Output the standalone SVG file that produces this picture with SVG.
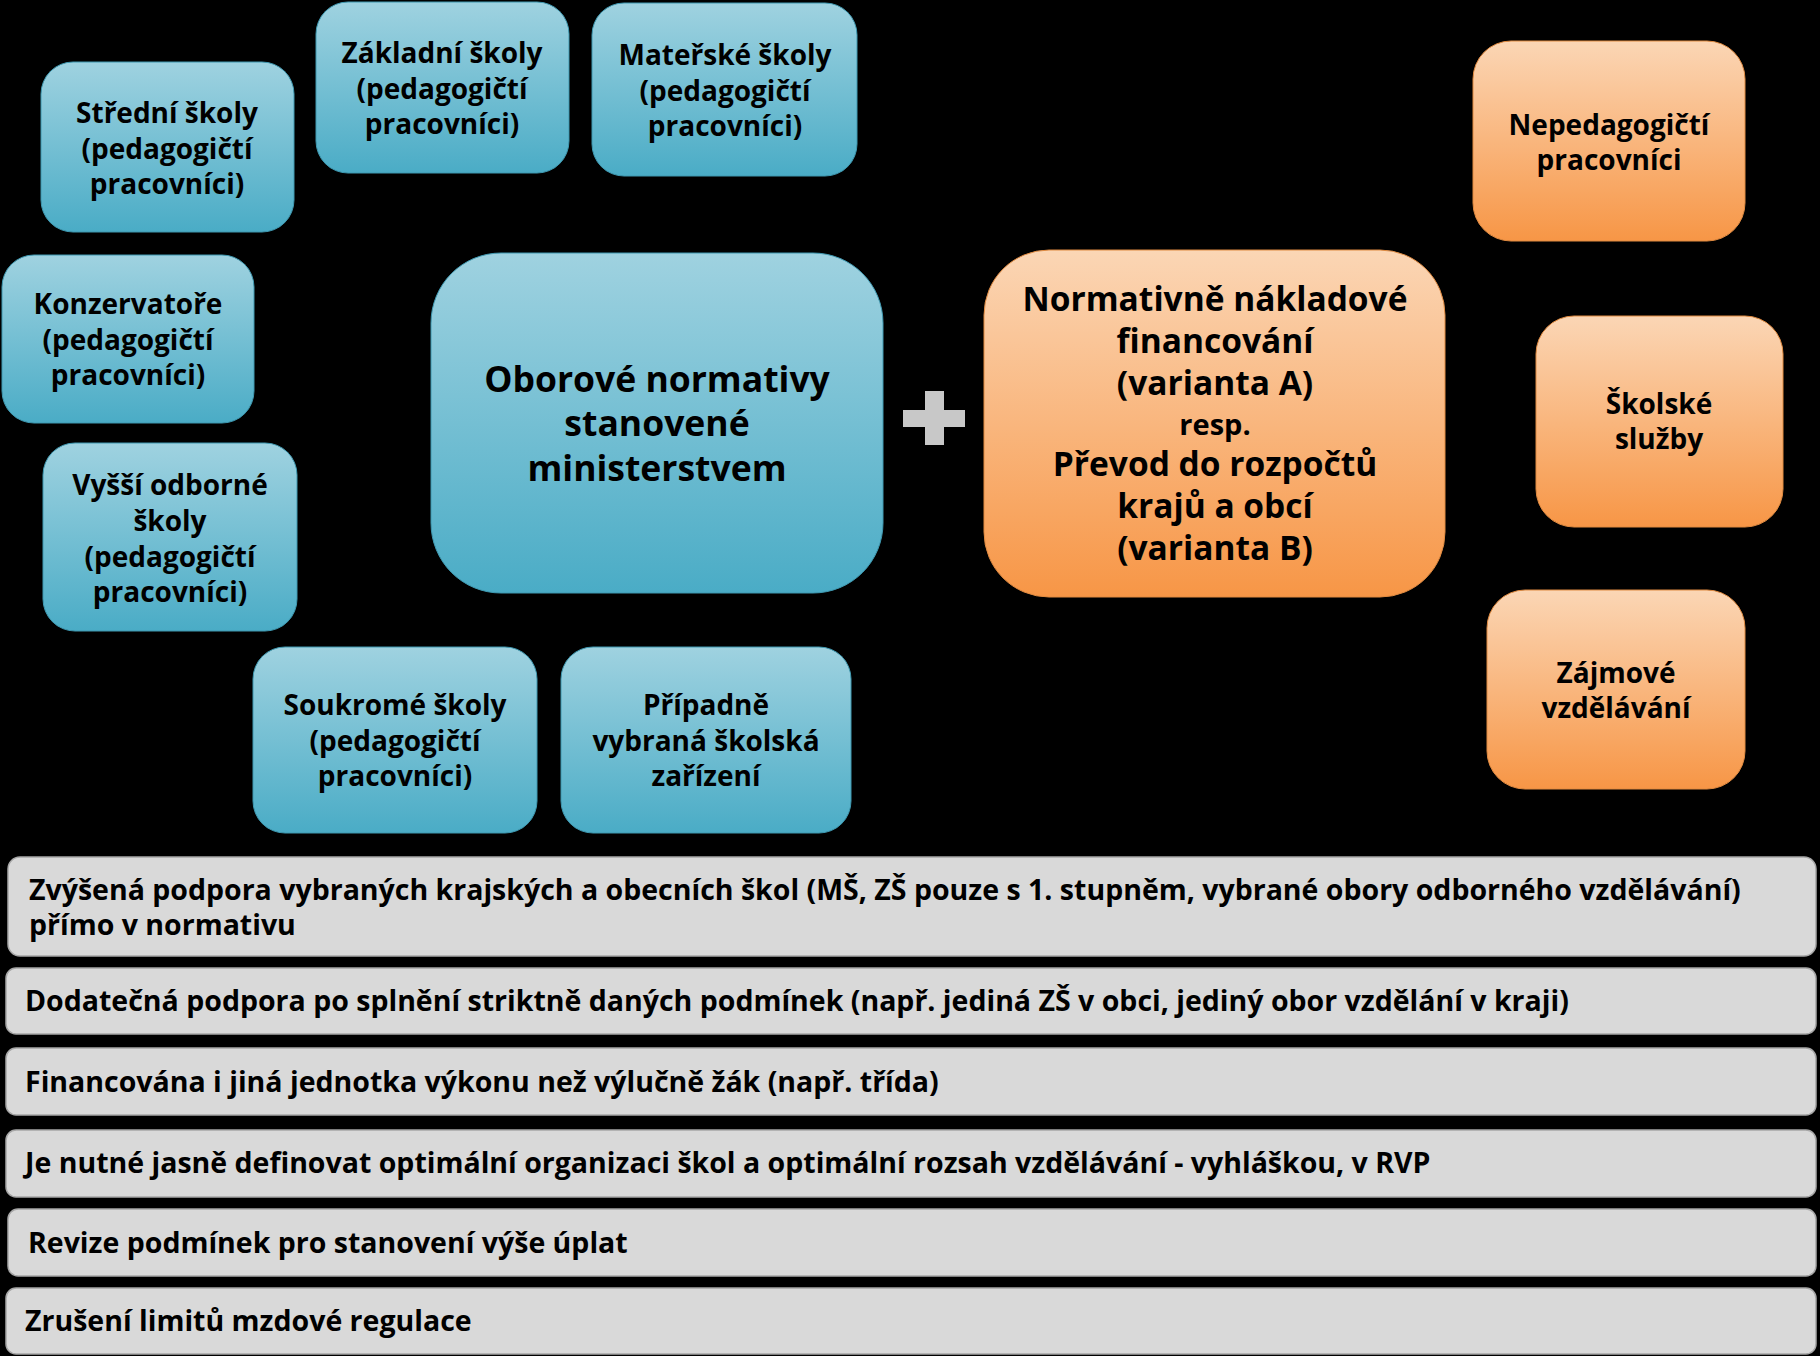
<svg xmlns="http://www.w3.org/2000/svg" width="1820" height="1356" viewBox="0 0 1820 1356">
<defs>
<linearGradient id="gBlue" x1="0" y1="0" x2="0" y2="1">
<stop offset="0" stop-color="#9fd2e0"/>
<stop offset="1" stop-color="#4aacc6"/>
</linearGradient>
<linearGradient id="gOrange" x1="0" y1="0" x2="0" y2="1">
<stop offset="0" stop-color="#fbd6b5"/>
<stop offset="1" stop-color="#f79646"/>
</linearGradient>
<style>
text{font-family:"Open Sans","Liberation Sans",sans-serif;font-weight:bold;fill:#000}
.blue{fill:url(#gBlue);stroke:#3e98b0;stroke-width:1}
.orange{fill:url(#gOrange);stroke:#e08a40;stroke-width:1}
.bar{fill:#d9d9d9;stroke:#a6a6a6;stroke-width:1.5}
.n{font-size:28px;text-anchor:middle}
.bigb{font-size:35.5px;text-anchor:middle}
.bigo{font-size:33.5px;text-anchor:middle}
.resp{font-size:29px;text-anchor:middle}
.b{font-size:28.5px}
</style>
</defs>
<rect width="1820" height="1356" fill="#000"/>

<g id="stredni">
<rect class="blue" x="41" y="62" width="253" height="170" rx="32"/>
<text class="n" x="167" y="123">Střední školy</text>
<text class="n" x="167" y="159">(pedagogičtí</text>
<text class="n" x="167" y="194">pracovníci)</text>
</g>
<g id="zakladni">
<rect class="blue" x="316" y="2" width="253" height="171" rx="32"/>
<text class="n" x="442" y="63">Základní školy</text>
<text class="n" x="442" y="99">(pedagogičtí</text>
<text class="n" x="442" y="134">pracovníci)</text>
</g>
<g id="materske">
<rect class="blue" x="592" y="3" width="265" height="173" rx="32"/>
<text class="n" x="725" y="65">Mateřské školy</text>
<text class="n" x="725" y="101">(pedagogičtí</text>
<text class="n" x="725" y="136">pracovníci)</text>
</g>
<g id="konzervatore">
<rect class="blue" x="2" y="255" width="252" height="168" rx="32"/>
<text class="n" x="128" y="314">Konzervatoře</text>
<text class="n" x="128" y="350">(pedagogičtí</text>
<text class="n" x="128" y="385">pracovníci)</text>
</g>
<g id="vyssi">
<rect class="blue" x="43" y="443" width="254" height="188" rx="32"/>
<text class="n" x="170" y="495">Vyšší odborné</text>
<text class="n" x="170" y="531">školy</text>
<text class="n" x="170" y="567">(pedagogičtí</text>
<text class="n" x="170" y="602">pracovníci)</text>
</g>
<g id="soukrome">
<rect class="blue" x="253" y="647" width="284" height="186" rx="32"/>
<text class="n" x="395" y="715">Soukromé školy</text>
<text class="n" x="395" y="751">(pedagogičtí</text>
<text class="n" x="395" y="786">pracovníci)</text>
</g>
<g id="pripadne">
<rect class="blue" x="561" y="647" width="290" height="186" rx="32"/>
<text class="n" x="706" y="715">Případně</text>
<text class="n" x="706" y="751">vybraná školská</text>
<text class="n" x="706" y="786">zařízení</text>
</g>
<g id="oborove">
<rect class="blue" x="431" y="253" width="452" height="340" rx="70"/>
<text class="bigb" x="657" y="392">Oborové normativy</text>
<text class="bigb" x="657" y="436">stanovené</text>
<text class="bigb" x="657" y="481">ministerstvem</text>
</g>

<g id="connectors">
<path d="M925 391 H944 V410 H965 V427 H944 V445 H925 V427 H903 V410 H925 Z" fill="#c8c8c8"/>
</g>

<g id="normativne">
<rect class="orange" x="984" y="250" width="461" height="347" rx="65"/>
<text class="bigo" x="1215" y="311">Normativně nákladové</text>
<text class="bigo" x="1215" y="353">financování</text>
<text class="bigo" x="1215" y="395">(varianta A)</text>
<text class="resp" x="1215" y="435">resp.</text>
<text class="bigo" x="1215" y="476">Převod do rozpočtů</text>
<text class="bigo" x="1215" y="518">krajů a obcí</text>
<text class="bigo" x="1215" y="560">(varianta B)</text>
</g>
<g id="nepedagogicti">
<rect class="orange" x="1473" y="41" width="272" height="200" rx="38"/>
<text class="n" x="1609" y="135">Nepedagogičtí</text>
<text class="n" x="1609" y="170">pracovníci</text>
</g>
<g id="skolske">
<rect class="orange" x="1536" y="316" width="247" height="211" rx="38"/>
<text class="n" x="1659" y="414">Školské</text>
<text class="n" x="1659" y="449">služby</text>
</g>
<g id="zajmove">
<rect class="orange" x="1487" y="590" width="258" height="199" rx="38"/>
<text class="n" x="1616" y="683">Zájmové</text>
<text class="n" x="1616" y="718">vzdělávání</text>
</g>

<g id="bar1">
<rect class="bar" x="8" y="857" width="1808" height="99" rx="12"/>
<text class="b" x="29" y="900">Zvýšená podpora vybraných krajských a obecních škol (MŠ, ZŠ pouze s 1. stupněm, vybrané obory odborného vzdělávání)</text>
<text class="b" x="29" y="935">přímo v normativu</text>
</g>
<g id="bar2">
<rect class="bar" x="6" y="968" width="1810" height="66" rx="10"/>
<text class="b" x="25" y="1011">Dodatečná podpora po splnění striktně daných podmínek (např. jediná ZŠ v obci, jediný obor vzdělání v kraji)</text>
</g>
<g id="bar3">
<rect class="bar" x="6" y="1048" width="1810" height="67" rx="10"/>
<text class="b" x="25" y="1092">Financována i jiná jednotka výkonu než výlučně žák (např. třída)</text>
</g>
<g id="bar4">
<rect class="bar" x="6" y="1130" width="1810" height="67" rx="10"/>
<text class="b" x="25" y="1173">Je nutné jasně definovat optimální organizaci škol a optimální rozsah vzdělávání - vyhláškou, v RVP</text>
</g>
<g id="bar5">
<rect class="bar" x="8" y="1209" width="1808" height="67" rx="10"/>
<text class="b" x="28" y="1253">Revize podmínek pro stanovení výše úplat</text>
</g>
<g id="bar6">
<rect class="bar" x="6" y="1288" width="1810" height="66" rx="10"/>
<text class="b" x="25" y="1331">Zrušení limitů mzdové regulace</text>
</g>
</svg>
